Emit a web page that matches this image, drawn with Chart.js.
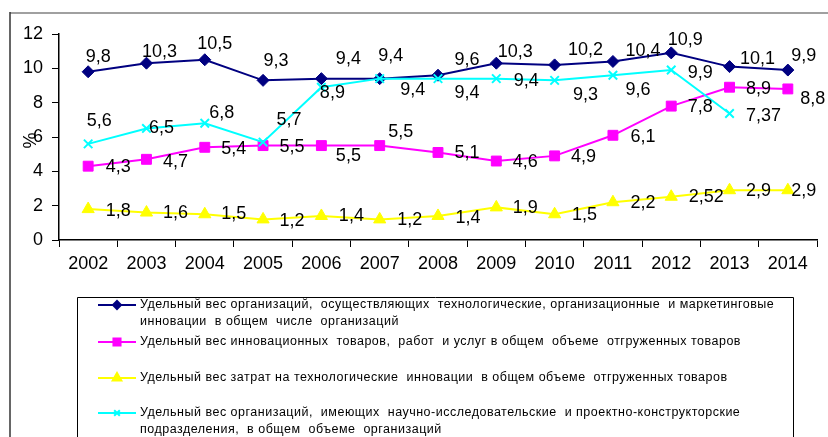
<!DOCTYPE html>
<html>
<head>
<meta charset="utf-8">
<script src="https://cdn.jsdelivr.net/npm/chart.js@4/dist/chart.umd.min.js"></script>
<style>
  html, body { margin: 0; padding: 0; background: #fff; }
  canvas { display: block; }
</style>
</head>
<body>
<canvas id="chart" width="828" height="437"></canvas>
<script>
// --- данные ---
const years = ['2002', '2003', '2004', '2005', '2006', '2007', '2008', '2009', '2010', '2011', '2012', '2013', '2014'];
const innovOrgs = [9.8, 10.3, 10.5, 9.3, 9.4, 9.4, 9.6, 10.3, 10.2, 10.4, 10.9, 10.1, 9.9];
const innovGoods = [4.3, 4.7, 5.4, 5.5, 5.5, 5.5, 5.1, 4.6, 4.9, 6.1, 7.8, 8.9, 8.8];
const techCosts = [1.8, 1.6, 1.5, 1.2, 1.4, 1.2, 1.4, 1.9, 1.5, 2.2, 2.52, 2.9, 2.9];
const rdOrgs = [5.6, 6.5, 6.8, 5.7, 8.9, 9.4, 9.4, 9.4, 9.3, 9.6, 9.9, 7.37, null];

const legendTexts = [
    ['Удельный вес организаций,  осуществляющих  технологические, организационные  и маркетинговые',
     'инновации  в общем  числе  организаций'],
    ['Удельный вес инновационных  товаров,  работ  и услуг в общем  объеме  отгруженных товаров'],
    ['Удельный вес затрат на технологические  инновации  в общем объеме  отгруженных товаров'],
    ['Удельный вес организаций,  имеющих  научно-исследовательские  и проектно-конструкторские',
     'подразделения,  в общем  объеме  организаций']
];

// смещения подписей значений относительно точек (px)
const innovOrgsOff = [[10,-15],[13,-11],[10,-16],[13,-19],[27,-20],[11,-23],[29,-15],[19,-11],[31,-15],[30,-10],[14,-13],[28,-8],[16,-14]];
const innovGoodsOff = [[30,1],[29,3],[29,2],[29,1],[27,10],[21,-14],[29,1],[29,1],[29,1],[30,2],[29,1],[29,2],[25,10]];
const techCostsOff = [[30,2],[29,0],[29,0],[29,2],[30,0],[30,1],[30,2],[29,1],[30,1],[30,1],[35,0],[29,1],[16,1]];
const rdOrgsOff = [[11,-23],[15,0],[17,-10],[26,-22],[11,6],[33,11],[29,14],[30,2],[31,15],[25,15],[29,3],[34,3],[0,0]];

const FONT = '"Liberation Sans", Arial, sans-serif';

const chartArt = {
    id: 'chartArt',
    beforeDraw(chart) {
        const ctx = chart.ctx;
        ctx.save();
        ctx.fillStyle = '#fff';
        ctx.fillRect(0, 0, chart.width, chart.height);
        // рамка области
        ctx.strokeStyle = '#a0a0a0';
        ctx.lineWidth = 2;
        ctx.beginPath();
        ctx.moveTo(10, 13);
        ctx.lineTo(chart.width, 13);
        ctx.stroke();
        ctx.strokeStyle = '#333';
        ctx.lineWidth = 1.5;
        ctx.beginPath();
        ctx.moveTo(10, 12);
        ctx.lineTo(10, chart.height);
        ctx.stroke();
        ctx.restore();
    },
    afterDatasetsDraw(chart) {
        const ctx = chart.ctx;
        ctx.save();
        ctx.font = '18px ' + FONT;
        ctx.fillStyle = '#000';
        ctx.textAlign = 'center';
        ctx.textBaseline = 'middle';
        chart.data.datasets.forEach((ds, i) => {
            const meta = chart.getDatasetMeta(i);
            meta.data.forEach((pt, j) => {
                const v = ds.data[j];
                if (v === null) return;
                const off = ds.labelOffsets[j];
                ctx.fillText(String(v).replace('.', ','), pt.x + off[0], pt.y + off[1]);
            });
        });
        ctx.restore();
    },
    afterDraw(chart) {
        const ctx = chart.ctx;
        const y = chart.scales.y;
        ctx.save();
        // подпись оси Y
        ctx.font = '18px ' + FONT;
        ctx.fillStyle = '#000';
        ctx.textAlign = 'center';
        ctx.textBaseline = 'middle';
        ctx.translate(chart.chartArea.left - 28, y.getPixelForValue(5.8));
        ctx.rotate(-Math.PI / 2);
        ctx.fillText('%', 0, 0);
        ctx.restore();

        // легенда
        ctx.save();
        ctx.strokeStyle = '#000';
        ctx.lineWidth = 1;
        ctx.beginPath();
        ctx.moveTo(77.5, chart.height);
        ctx.lineTo(77.5, 297.5);
        ctx.lineTo(793.5, 297.5);
        ctx.lineTo(793.5, chart.height);
        ctx.stroke();

        const rows = [305, 342, 378, 413];
        ctx.font = '12.5px ' + FONT;
        ctx.letterSpacing = '0.5px';
        ctx.textBaseline = 'middle';
        ctx.textAlign = 'left';
        chart.data.datasets.forEach((ds, i) => {
            const ry = rows[i];
            ctx.strokeStyle = ds.borderColor;
            ctx.lineWidth = 2;
            ctx.beginPath();
            ctx.moveTo(98, ry);
            ctx.lineTo(136, ry);
            ctx.stroke();
            ctx.fillStyle = ds.pointBackgroundColor;
            ctx.strokeStyle = ds.pointBorderColor;
            Chart.helpers.drawPoint(ctx, {
                pointStyle: ds.pointStyle,
                radius: ds.legendRadius,
                rotation: 0,
                borderWidth: ds.pointBorderWidth
            }, 117, ry);
            ctx.fillStyle = '#000';
            legendTexts[i].forEach((line, k) => {
                ctx.fillText(line, 140, ry + k * 17);
            });
        });
        ctx.restore();
    }
};

new Chart(document.getElementById('chart'), {
    type: 'line',
    data: {
        labels: years,
        datasets: [{
            label: legendTexts[0].join(' '),
            data: innovOrgs,
            labelOffsets: innovOrgsOff,
            borderColor: '#000080',
            pointBackgroundColor: '#000080',
            pointBorderColor: '#000080',
            pointStyle: 'rectRot',
            pointRadius: 6,
            pointBorderWidth: 1,
            legendRadius: 4,
            borderWidth: 2,
            order: 3
        }, {
            label: legendTexts[1].join(' '),
            data: innovGoods,
            labelOffsets: innovGoodsOff,
            borderColor: '#ff00ff',
            pointBackgroundColor: '#ff00ff',
            pointBorderColor: '#ff00ff',
            pointStyle: 'rect',
            pointRadius: 7,
            pointBorderWidth: 1,
            legendRadius: 5,
            borderWidth: 2,
            order: 2
        }, {
            label: legendTexts[2].join(' '),
            data: techCosts,
            labelOffsets: techCostsOff,
            borderColor: '#ffff00',
            pointBackgroundColor: '#ffff00',
            pointBorderColor: '#ffff00',
            pointStyle: 'triangle',
            pointRadius: 7,
            pointBorderWidth: 1,
            legendRadius: 5,
            borderWidth: 2,
            order: 1
        }, {
            label: legendTexts[3].join(' '),
            data: rdOrgs,
            labelOffsets: rdOrgsOff,
            borderColor: '#00ffff',
            pointBackgroundColor: '#00ffff',
            pointBorderColor: '#00ffff',
            pointStyle: 'crossRot',
            pointRadius: 6,
            pointBorderWidth: 2,
            legendRadius: 4,
            borderWidth: 2,
            order: 0
        }]
    },
    options: {
        responsive: false,
        devicePixelRatio: 1,
        animation: false,
        layout: {
            padding: { left: 0, right: 11, top: 34, bottom: 157 }
        },
        plugins: {
            legend: { display: false },
            tooltip: { enabled: false }
        },
        scales: {
            x: {
                offset: true,
                grid: {
                    offset: true,
                    drawOnChartArea: false,
                    drawTicks: true,
                    tickLength: 7,
                    color: '#000'
                },
                border: { color: '#000', width: 1.5 },
                ticks: {
                    color: '#000',
                    font: { family: FONT, size: 18 },
                    padding: 6,
                    maxRotation: 0,
                    autoSkip: false
                },
                afterFit: s => { s.height = 40; }
            },
            y: {
                min: 0,
                max: 12,
                grid: {
                    drawOnChartArea: false,
                    drawTicks: true,
                    tickLength: 7,
                    color: '#000'
                },
                border: { color: '#000', width: 1.5 },
                ticks: {
                    stepSize: 2,
                    color: '#000',
                    font: { family: FONT, size: 18 },
                    padding: 9
                },
                afterFit: s => { s.width = 59; }
            }
        }
    },
    plugins: [chartArt]
});
</script>
</body>
</html>
